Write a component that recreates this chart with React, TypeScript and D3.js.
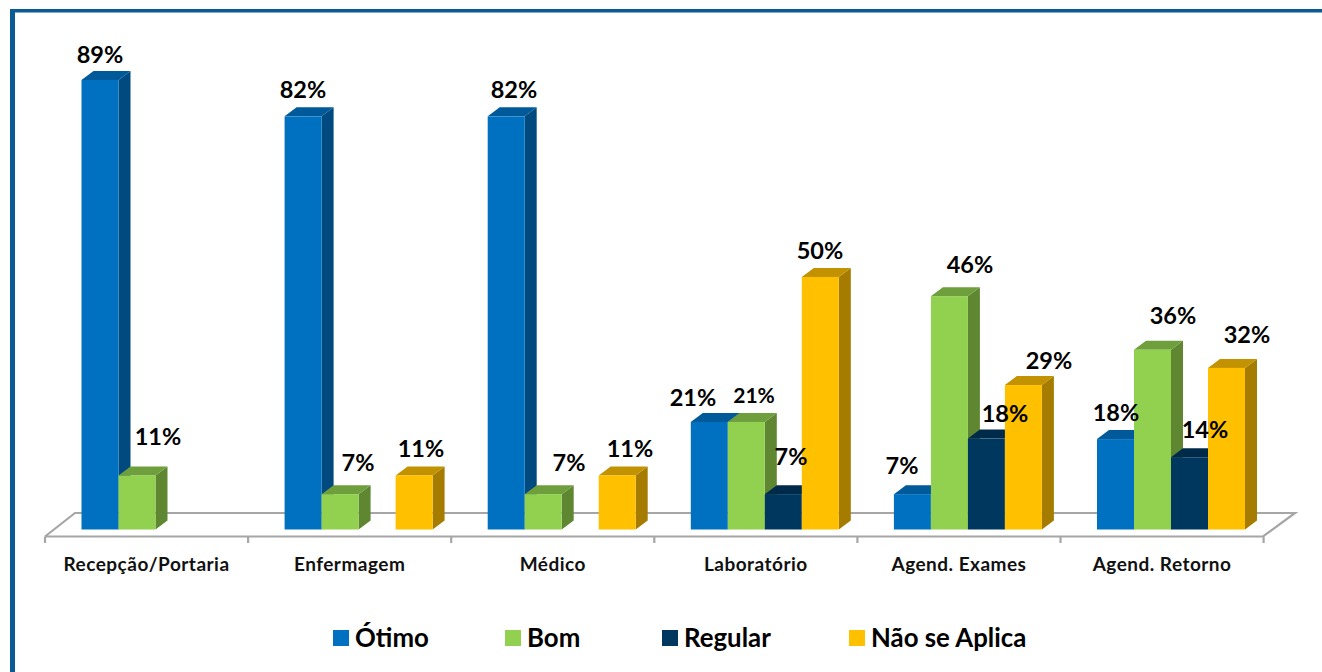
import React from "react";
import * as d3 from "d3";

const categories = ["Recepção/Portaria", "Enfermagem", "Médico", "Laboratório", "Agend. Exames", "Agend. Retorno"];
const seriesNames = ["Ótimo", "Bom", "Regular", "Não se Aplica"];
const otimo = [89, 81.8, 81.8, 21.3, 7, 17.9];
const bom = [10.7, 7, 7, 21.3, 46.2, 35.6];
const regular = [0, 0, 0, 7, 18, 14.3];
const naoSeAplica = [0, 10.7, 10.7, 50, 28.6, 32];
const seriesValues = [otimo, bom, regular, naoSeAplica];

const frontColors = ["#0070c0", "#92d050", "#00375f", "#ffc000"];
const topColors = ["#005a9a", "#6f9e3d", "#002a4a", "#c29200"];
const sideColors = ["#004a80", "#5f8732", "#00233f", "#a57c00"];

const W = 1322, H = 672;
const x0 = d3.scaleBand<string>().domain(categories).range([45, 45 + 203.1 * 6]);
const x1 = d3.scaleBand<string>().domain(seriesNames).range([36.5, 36.5 + 148]);
const y = d3.scaleLinear().domain([0, 89]).range([529.5, 80]);
const DX = 12, DY = -9;

const labelPos: Record<string, [number, number]> = {
  "0-0": [100, 54], "0-1": [158, 436],
  "1-0": [303, 89], "1-1": [358, 462], "1-3": [421, 448],
  "2-0": [514, 89], "2-1": [569, 462], "2-3": [630, 448],
  "3-0": [693, 397], "3-1": [754, 394], "3-2": [791, 456], "3-3": [820, 250],
  "4-0": [902, 465], "4-1": [970, 264], "4-2": [1005, 413], "4-3": [1049, 360],
  "5-0": [1116, 412], "5-1": [1173, 315], "5-2": [1205, 429], "5-3": [1247, 334],
};
const legendX = [333, 505, 662, 849];
const font = "Lato, Carlito, 'Noto Sans', sans-serif";

export default function App() {
  const bw = x1.bandwidth();
  const y0 = y(0);
  const ticks = d3.range(0, 7).map((i) => 45 + i * x0.step());
  return (
    <svg width={W} height={H} style={{ position: "absolute", left: 0, top: 0, background: "#fff" }} fontFamily={font}>
      <rect x={10} y={9} width={W - 10} height={3.5} fill="#0b5a94" />
      <rect x={10} y={9} width={5} height={H - 9} fill="#0b5a94" />

      <g fill="none" stroke="#a6a6a6" strokeWidth={2.2}>
        <path d="M45 536.5 L75 513 H1295 L1263 536.5 H45" />
        {ticks.map((t) => <line key={t} x1={t} x2={t} y1={536.5} y2={543} />)}
      </g>

      {categories.map((c, ci) => (
        <g key={c}>
          {seriesNames.map((s, si) => {
            const v = seriesValues[si][ci];
            if (!v) return null;
            const x = x0(c)! + x1(s)!;
            const t = y(v);
            return (
              <g key={s}>
                <path d={`M${x + bw} ${t} l${DX} ${DY} V${y0 + DY} l${-DX} ${-DY} Z`} fill={sideColors[si]} />
                <path d={`M${x} ${t} l${DX} ${DY} h${bw} l${-DX} ${-DY} Z`} fill={topColors[si]} />
                <rect x={x} y={t} width={bw} height={y0 - t} fill={frontColors[si]} />
              </g>
            );
          })}
        </g>
      ))}

      {categories.map((c, ci) =>
        seriesNames.map((s, si) => {
          const v = seriesValues[si][ci];
          if (!v) return null;
          const [lx, ly] = labelPos[`${ci}-${si}`];
          const small = ci === 3 && si === 1;
          return (
            <text key={s + c} x={lx} y={ly} textAnchor="middle" dominantBaseline="central"
              fontSize={small ? 21 : 23.5} fontWeight={700} fill="#000">{Math.round(v)}%</text>
          );
        })
      )}

      {categories.map((c) => (
        <text key={c} x={x0(c)! + x0.step() / 2} y={563} textAnchor="middle" dominantBaseline="central"
          fontSize={19} letterSpacing={0.48} fontWeight={700} fill="#111">{c}</text>
      ))}

      {seriesNames.map((s, i) => (
        <g key={s}>
          <rect x={legendX[i]} y={630} width={16} height={16} fill={frontColors[i]} />
          <text x={legendX[i] + 22} y={637} dominantBaseline="central" fontSize={25.8} fontWeight={700} fill="#000">{s}</text>
        </g>
      ))}
    </svg>
  );
}
